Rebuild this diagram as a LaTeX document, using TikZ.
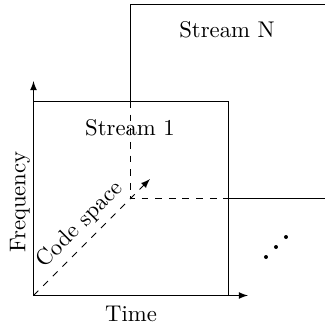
\documentclass[tikz,border=0pt]{standalone}
\usetikzlibrary{arrows}
\begin{document}
\begin{tikzpicture}[x=0.44pt,y=-0.44pt,
  axis/.style={thin,-latex},
  box/.style={thin},
  hidden/.style={thin,dashed},
  lbl/.style={inner sep=0pt},
  dotmark/.style={fill=black}]
\useasboundingbox (0,0) rectangle (325,325);
\coordinate (O) at (33.5,295.5);
\coordinate (T) at (248,295.5);
\coordinate (F) at (33.5,81);
\coordinate (A1) at (228,101);
\coordinate (B1) at (33.5,101);
\coordinate (C1) at (228,295.5);
\coordinate (P) at (130,198.5);
\coordinate (Q) at (130,101);
\coordinate (R) at (228,198.5);
\coordinate (NTL) at (130,4);
\coordinate (NBR) at (325,198.5);
\coordinate (D) at (150,179);
% Stream 1 box
\draw[box] (B1) -- (A1) -- (C1);
% Stream N box (visible part)
\draw[box] (Q) -- (NTL) -- (NTL -| NBR) -- (NBR) -- (R);
% hidden edges
\draw[hidden] (Q) -- (P) -- (R);
% axes
\draw[axis] (O) -- (T);
\draw[axis] (O) -- (F);
\draw[hidden,-latex] (O) -- (D);
% labels
\node[lbl] (s1) at (130,128) {Stream 1};
\node[lbl] (sN) at (227,30) {Stream N};
\node[lbl] (time) at (131,314) {Time};
\node[lbl,rotate=90] (freq) at (20,202) {Frequency};
\node[lbl,rotate=45] (code) at (80,225) {Code space};
% dots
\fill[dotmark] (266,257) circle (2);
\fill[dotmark] (276,247) circle (2);
\fill[dotmark] (286,237) circle (2);
\end{tikzpicture}
\end{document}
